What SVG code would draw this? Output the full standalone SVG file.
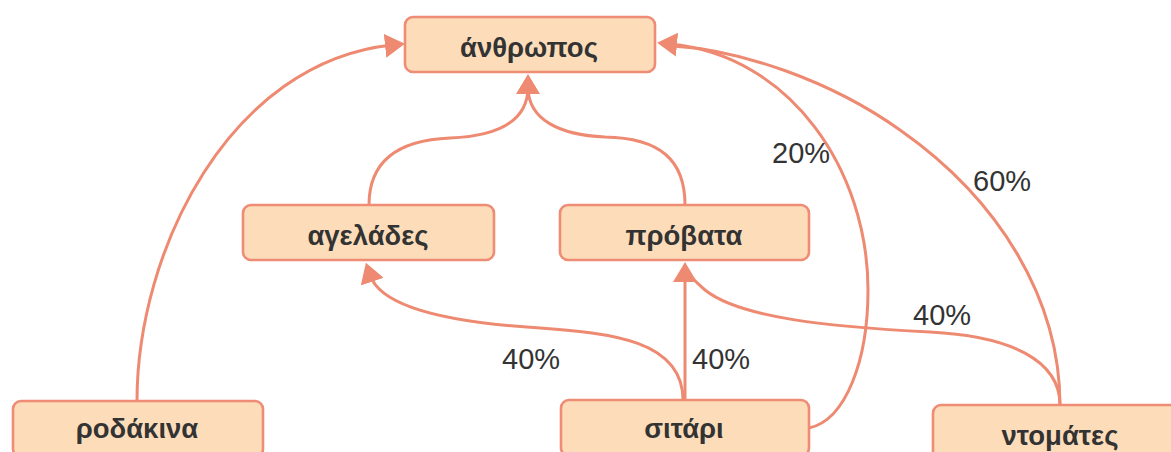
<svg xmlns="http://www.w3.org/2000/svg" width="1171" height="452" viewBox="0 0 1171 452">
<style>
.box{fill:#FDDDB9;stroke:#EF8C76;stroke-width:2.6}
.lbl{font-family:"Liberation Sans",Arial,sans-serif;font-size:27.5px;font-weight:bold;fill:#333;text-anchor:middle}
.pct{font-family:"Liberation Sans",Arial,sans-serif;font-size:29px;fill:#333}
.con{fill:none;stroke:#EE8A72;stroke-width:3;stroke-linecap:round}
</style>
<defs>
<marker id="arr" markerUnits="userSpaceOnUse" markerWidth="20" markerHeight="24" refX="7" refY="12" orient="auto">
<path d="M0,0 L20,12 L0,24 Z" fill="#EE8A72"/>
</marker>
</defs>
<rect width="1171" height="452" fill="#fff"/>
<g id="connectors">
<path class="con" d="M137,401 C 137,250 230,62 392,45" marker-end="url(#arr)"/>
<path class="con" d="M369,205 C 369,160 400,140 450,138 C 500,136 528,120 528,87" marker-end="url(#arr)"/>
<path class="con" d="M685,205 C 685,160 660,138 605,137 C 560,135 528,120 528,87"/>
<path class="con" d="M683,400 C 683,340 610,333 540,328 C 440,322 380,305 370,275" marker-end="url(#arr)"/>
<path class="con" d="M685,400 L685,275" marker-end="url(#arr)"/>
<path class="con" d="M1060,405 C 1060,360 1010,336 930,332 C 830,327 740,318 705,290 C 697,283 692,278 688,274"/>
<path class="con" d="M809,428 C 846,420 868,360 868,290 C 868,170 790,55 670,44" marker-end="url(#arr)"/>
<path class="con" d="M1060,405 C 1060,300 1000,200 900,130 C 830,80 740,50 673,46"/>
<text class="pct" x="772" y="163">20%</text>
<text class="pct" x="973" y="191">60%</text>
<text class="pct" x="913" y="325">40%</text>
<text class="pct" x="502" y="369">40%</text>
<text class="pct" x="692" y="369">40%</text>
</g>
<g id="anthropos"><rect class="box" x="405" y="17" width="250" height="55" rx="8"/><text class="lbl" x="529" y="57">άνθρωπος</text></g>
<g id="ageladen"><rect class="box" x="243" y="205" width="251" height="55" rx="8"/><text class="lbl" x="368" y="245">αγελάδες</text></g>
<g id="provata"><rect class="box" x="560" y="205" width="249" height="55" rx="8"/><text class="lbl" x="684" y="245">πρόβατα</text></g>
<g id="rodakina"><rect class="box" x="13" y="401" width="250" height="56" rx="8"/><text class="lbl" x="137" y="438">ροδάκινα</text></g>
<g id="sitari"><rect class="box" x="561" y="400" width="248" height="56" rx="8"/><text class="lbl" x="684" y="438">σιτάρι</text></g>
<g id="ntomates"><rect class="box" x="933" y="405" width="250" height="56" rx="8"/><text class="lbl" x="1060" y="445">ντομάτες</text></g>
</svg>
